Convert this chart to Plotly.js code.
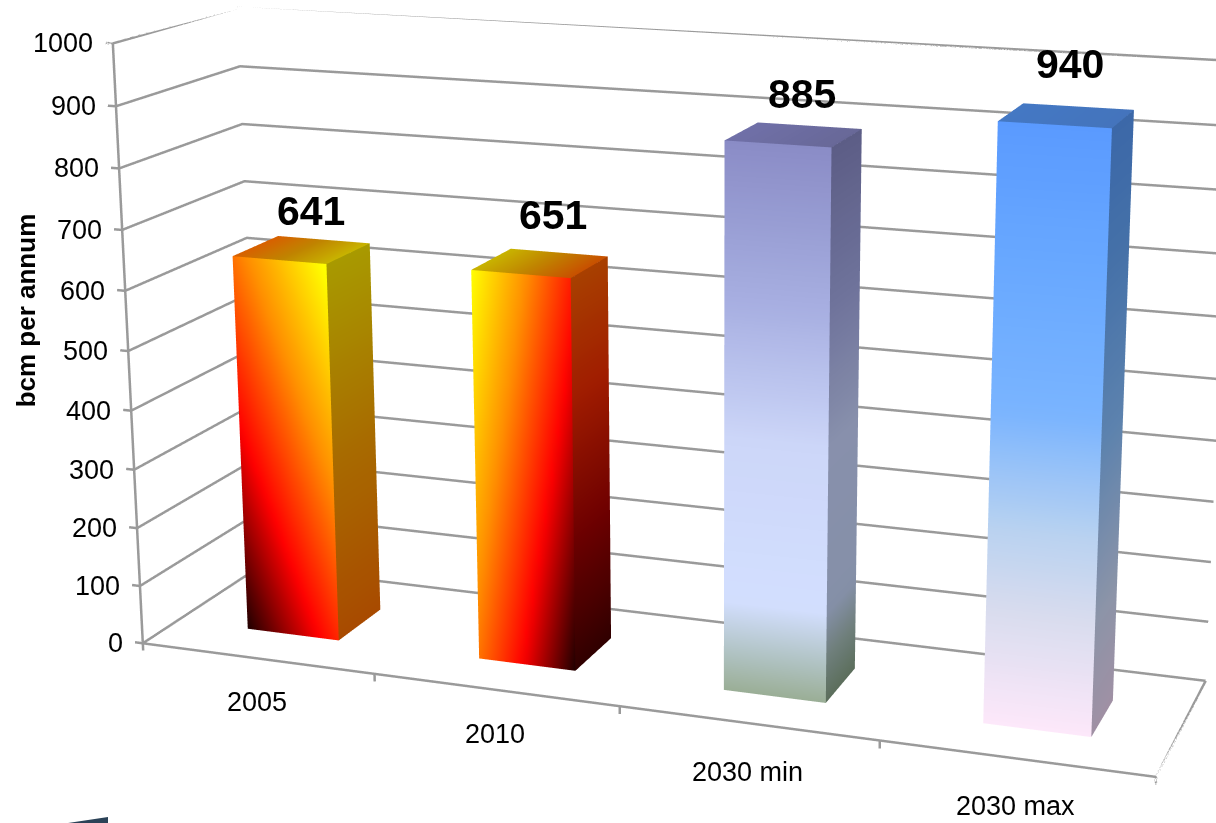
<!DOCTYPE html>
<html>
<head>
<meta charset="utf-8">
<script src="https://cdn.plot.ly/plotly-3.0.1.min.js"></script>
<style>
  html, body { margin: 0; padding: 0; background: #fff; width: 1216px; height: 823px; overflow: hidden; }
  #chart { position: absolute; left: -40px; top: -906px; }
</style>
</head>
<body>
<div id="chart"></div>
<script>
// Gas demand per scenario, in bcm per annum.
const categories = ['2005', '2010', '2030 min', '2030 max'];
const values = [641, 651, 885, 940];
const valueTicks = [0, 100, 200, 300, 400, 500, 600, 700, 800, 900, 1000];
const valueAxisTitle = 'bcm per annum';

// Bar footprint inside each category slot and inside the depth of the floor.
const barStart = 0.31, barWidth = 0.40, barFront = 0.27, barBack = 0.63;
const backWall = 0.93;
const gridColor = '#9a9a9a';
const fontFamily = '"Liberation Sans", Arial, sans-serif';

// Colour ramps: t = a*u + b*v + c, u runs across a face and v runs up or back along it.
const fireUp = [[0, '#200000'], [0.33, '#ff0000'], [0.67, '#ff9000'], [1, '#ffff00']];
const barFaces = [
  {
    front: { a: 0.42, b: 0.6, c: 0, stops: fireUp },
    side: { a: 0, b: 1, c: 0, stops: [[0, '#a84a00'], [0.5, '#a86c00'], [1, '#a89a00']] },
    top: { a: 1, b: 0, c: 0, stops: [[0, '#d86000'], [0.5, '#c08400'], [1, '#c8b400']] }
  },
  {
    front: { a: -0.6, b: 0.4, c: 0.6, stops: fireUp },
    side: { a: 0, b: 1, c: 0, stops: [[0, '#300000'], [0.35, '#6e0000'], [0.7, '#a01c00'], [1, '#a84000']] },
    top: { a: 1, b: 0, c: 0, stops: [[0, '#c8b400'], [0.5, '#c08400'], [1, '#c85000']] }
  },
  {
    front: { a: 0, b: 1, c: 0, stops: [[0, '#9aae96'], [0.09, '#b6c8ce'], [0.17, '#d3dfff'], [0.47, '#ccd6f8'], [0.71, '#a8b0e2'], [1, '#8a8cc6']] },
    side: { a: 0, b: 1, c: 0, stops: [[0, '#5c6e5c'], [0.09, '#70807e'], [0.17, '#8590a8'], [0.47, '#8890ac'], [0.71, '#70749c'], [1, '#5c5d86']] },
    top: { a: 1, b: 0, c: 0, stops: [[0, '#7070a8'], [1, '#686898']] }
  },
  {
    front: { a: 0, b: 1, c: 0, stops: [[0, '#fde8fa'], [0.2, '#d8dcee'], [0.34, '#b8d2f0'], [0.535, '#7ab4ff'], [0.78, '#68a8ff'], [1, '#5a9aff']] },
    side: { a: 0, b: 1, c: 0, stops: [[0, '#a090a4'], [0.2, '#8c94a8'], [0.5, '#5c82ae'], [0.8, '#4470a8'], [1, '#3c68a8']] },
    top: { a: 1, b: 0, c: 0, stops: [[0, '#4478c4'], [1, '#4474bc']] }
  }
];

function hexToRgb(h) {
  return [1, 3, 5].map(i => parseInt(h.slice(i, i + 2), 16));
}

function rampColor(stops, t) {
  const k = Math.max(0, Math.min(1, t));
  for (let i = 1; i < stops.length; i++) {
    if (k <= stops[i][0]) {
      const p = (k - stops[i - 1][0]) / (stops[i][0] - stops[i - 1][0]);
      const from = hexToRgb(stops[i - 1][1]), to = hexToRgb(stops[i][1]);
      const c = from.map((v, j) => Math.round(v + (to[j] - v) * p));
      return 'rgb(' + c.join(',') + ')';
    }
  }
  return stops[stops.length - 1][1];
}

// Adds one subdivided quad to a mesh so that the ramp interpolates smoothly.
function addFace(mesh, place, face) {
  const nu = 14, nv = 36, base = mesh.x.length;
  for (let j = 0; j <= nv; j++) {
    for (let i = 0; i <= nu; i++) {
      const u = i / nu, v = j / nv, p = place(u, v);
      mesh.x.push(p[0]); mesh.y.push(p[1]); mesh.z.push(p[2]);
      mesh.vertexcolor.push(rampColor(face.stops, face.a * u + face.b * v + face.c));
    }
  }
  for (let j = 0; j < nv; j++) {
    for (let i = 0; i < nu; i++) {
      const q = base + j * (nu + 1) + i;
      mesh.i.push(q, q + 1);
      mesh.j.push(q + 1, q + nu + 2);
      mesh.k.push(q + nu + 1, q + nu + 1);
    }
  }
}

const traces = [];

// Floor outline, wall grid, tick stubs and the value axis, all in data coordinates.
const lx = [], ly = [], lz = [];
function segment(pts) {
  pts.forEach(p => { lx.push(p[0]); ly.push(p[1]); lz.push(p[2]); });
  lx.push(null); ly.push(null); lz.push(null);
}
const xMax = categories.length;
valueTicks.forEach(v => {
  segment([[0, 0, v], [0, backWall, v], [xMax, backWall, v]]);
  segment([[-0.035, 0, v], [0, 0, v]]);
});
segment([[0, 0, 0], [0, 0, 1000]]);
segment([[0, 0, 0], [xMax, 0, 0], [xMax, backWall, 0]]);
for (let c = 0; c <= xMax; c++) segment([[c, 0, 0], [c, 0, -13]]);
traces.push({
  type: 'scatter3d', mode: 'lines', x: lx, y: ly, z: lz, connectgaps: false,
  line: { color: gridColor, width: 5 }, hoverinfo: 'skip', showlegend: false
});

// One mesh per bar: front, right side and top face.
values.forEach((value, n) => {
  const x0 = n + barStart, x1 = x0 + barWidth;
  const mesh = {
    type: 'mesh3d', x: [], y: [], z: [], i: [], j: [], k: [], vertexcolor: [],
    flatshading: false, hoverinfo: 'skip', showscale: false, name: categories[n],
    lighting: { ambient: 1, diffuse: 0, specular: 0, roughness: 1, fresnel: 0 }
  };
  const f = barFaces[n];
  addFace(mesh, (u, v) => [x0 + (x1 - x0) * u, barFront, value * v], f.front);
  addFace(mesh, (u, v) => [x1, barFront + (barBack - barFront) * u, value * v], f.side);
  addFace(mesh, (u, v) => [x0 + (x1 - x0) * u, barFront + (barBack - barFront) * v, value], f.top);
  traces.push(mesh);
});

// Text labels are positioned from the same data coordinates.
const labelFont = { family: fontFamily, size: 27, color: '#000' };
const annotations = [];
valueTicks.forEach(v => annotations.push({
  x: 0, y: 0, z: v, text: String(v), showarrow: false, xanchor: 'right', yanchor: 'middle',
  xshift: -18, yshift: 0, font: labelFont
}));
const catShift = [-44, -44, -49, -48];
categories.forEach((c, n) => annotations.push({
  x: n + 0.5, y: 0, z: 0, text: c, showarrow: false, xanchor: 'center', yanchor: 'middle',
  yshift: catShift[n], font: labelFont
}));
const valueShiftX = [9, 13, 8.5, 3], valueShiftY = [39, 48, 41, 52];
values.forEach((v, n) => annotations.push({
  x: n + 0.51, y: (barFront + barBack) / 2, z: v, text: '<b>' + v + '</b>', showarrow: false,
  xanchor: 'center', yanchor: 'middle', xshift: valueShiftX[n], yshift: valueShiftY[n],
  font: { family: fontFamily, size: 41, color: '#000' }
}));
annotations.push({
  x: 0, y: 0, z: 568, text: '<b>' + valueAxisTitle + '</b>', showarrow: false, textangle: -90,
  xanchor: 'center', yanchor: 'middle', xshift: -100, font: { family: fontFamily, size: 26, color: '#000' }
});

const plotWidth = 1500, plotHeight = 2450, plotLeft = -40, plotTop = -906;
const pageX = px => (px - plotLeft) / plotWidth;
const pageY = py => 1 - (py - plotTop) / plotHeight;

const hiddenAxis = { visible: false, showgrid: false, zeroline: false, showspikes: false };
const layout = {
  width: plotWidth, height: plotHeight,
  margin: { l: 0, r: 0, t: 0, b: 0 },
  paper_bgcolor: '#fff', showlegend: false, hovermode: false,
  // Sliver of a neighbouring graphic along the bottom edge.
  shapes: [{
    type: 'path', xref: 'paper', yref: 'paper', layer: 'above', line: { width: 0 }, fillcolor: '#2b4257',
    path: 'M ' + pageX(68) + ' ' + pageY(823) + ' L ' + pageX(108) + ' ' + pageY(817) + ' L ' + pageX(108) + ' ' + pageY(823) + ' Z'
  }],
  scene: {
    domain: { x: [0, 1], y: [0, 1] },
    bgcolor: 'rgba(0,0,0,0)',
    dragmode: false,
    aspectmode: 'manual',
    aspectratio: { x: 1.00875, y: 0.2618, z: 0.5996 },
    xaxis: Object.assign({ range: [-0.035, 4] }, hiddenAxis),
    yaxis: Object.assign({ range: [0, 1] }, hiddenAxis),
    zaxis: Object.assign({ range: [-13, 1000] }, hiddenAxis),
    camera: {
      projection: { type: 'perspective' },
      eye: { x: 0.9311, y: -2.5227, z: 0.7265 },
      center: { x: 0.039, y: 0.0227, z: 0.0435 },
      up: { x: 0, y: 0, z: 1 }
    },
    annotations: annotations
  }
};

Plotly.newPlot('chart', traces, layout, { displayModeBar: false, staticPlot: false, responsive: false });
</script>
</body>
</html>
